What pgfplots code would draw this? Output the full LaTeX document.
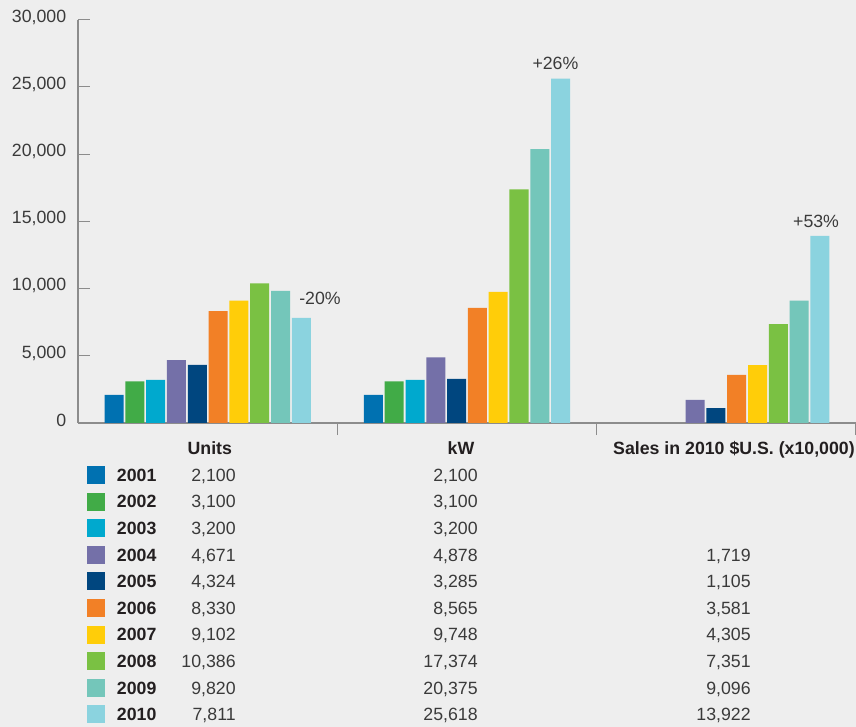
\documentclass[border=0pt]{standalone}
\usepackage{pgfplots}
\pgfplotsset{compat=1.18}
\usepackage{fontspec}
\setmainfont{Liberation Sans}
\definecolor{bg}{HTML}{EEEEEE}
\definecolor{axgray}{HTML}{8C8C8C}
\definecolor{txt}{HTML}{3A3A3A}
\definecolor{dark}{HTML}{231F20}
\definecolor{c01}{HTML}{0071B1}
\definecolor{c02}{HTML}{41AB47}
\definecolor{c03}{HTML}{00A9CE}
\definecolor{c04}{HTML}{7470A8}
\definecolor{c05}{HTML}{00467F}
\definecolor{c06}{HTML}{F28026}
\definecolor{c07}{HTML}{FFCD09}
\definecolor{c08}{HTML}{7AC143}
\definecolor{c09}{HTML}{74C6BA}
\definecolor{c10}{HTML}{8BD3DF}
\newcommand{\fnt}{\fontsize{13.3}{16}\selectfont}
\newcommand{\rowtxt}[4]{\makebox[89pt][l]{\textcolor{dark}{\bfseries #1}\hfill #2}\makebox[181.5pt][r]{#3}\makebox[204.75pt][r]{#4}}
\begin{document}
\begin{tikzpicture}[font=\fnt]
\fill[bg] (-58.5pt,-228pt) rectangle (583.5pt,317.25pt);
\begin{axis}[
  at={(0pt,0pt)}, anchor=south west,
  scale only axis, width=583.5pt, height=302.5pt,
  xmin=-0.5, xmax=2.5, ymin=0, ymax=30000,
  axis lines*=left,
  axis line style={draw=axgray, line width=0.9pt},
  xtick={0.5,1.5,2.5}, xticklabels={},
  xticklabel style={inner sep=0pt, outer sep=0pt},
  ytick={0,5000,10000,15000,20000,25000,30000},
  tick align=inside,
  major tick length=9pt,
  tick style={draw=axgray, line width=0.9pt},
  yticklabel style={font=\fnt, text=txt, xshift=-5.3pt, yshift=2pt},
  /pgf/number format/1000 sep={,},
  /pgf/number format/assume math mode=true,
  scaled y ticks=false,
  ybar, bar width=0.0733,
  clip=false,
  legend image code/.code={\fill[#1,draw=none] (0pt,-6.75pt) rectangle (13.5pt,6.75pt);},
  legend cell align=left,
  legend style={at={(0.01157,-0.1064)}, anchor=north west, draw=none, fill=none,
    inner sep=0pt, outer sep=0pt, row sep=6.45pt, column sep=9pt,
    nodes={inner sep=0pt, text height=11.5pt, text depth=2pt, font=\fnt, text=txt}},
]
\addplot[fill=c01, draw=none, bar shift=-0.361] coordinates {(0,2100) (1,2100)};
\addlegendentry{\rowtxt{2001}{2,100}{2,100}{}}
\addplot[fill=c02, draw=none, bar shift=-0.281] coordinates {(0,3100) (1,3100)};
\addlegendentry{\rowtxt{2002}{3,100}{3,100}{}}
\addplot[fill=c03, draw=none, bar shift=-0.2005] coordinates {(0,3200) (1,3200)};
\addlegendentry{\rowtxt{2003}{3,200}{3,200}{}}
\addplot[fill=c04, draw=none, bar shift=-0.1203] coordinates {(0,4671) (1,4878) (2,1719)};
\addlegendentry{\rowtxt{2004}{4,671}{4,878}{1,719}}
\addplot[fill=c05, draw=none, bar shift=-0.0401] coordinates {(0,4324) (1,3285) (2,1105)};
\addlegendentry{\rowtxt{2005}{4,324}{3,285}{1,105}}
\addplot[fill=c06, draw=none, bar shift=0.0401] coordinates {(0,8330) (1,8565) (2,3581)};
\addlegendentry{\rowtxt{2006}{8,330}{8,565}{3,581}}
\addplot[fill=c07, draw=none, bar shift=0.1203] coordinates {(0,9102) (1,9748) (2,4305)};
\addlegendentry{\rowtxt{2007}{9,102}{9,748}{4,305}}
\addplot[fill=c08, draw=none, bar shift=0.2005] coordinates {(0,10386) (1,17374) (2,7351)};
\addlegendentry{\rowtxt{2008}{10,386}{17,374}{7,351}}
\addplot[fill=c09, draw=none, bar shift=0.281] coordinates {(0,9820) (1,20375) (2,9096)};
\addlegendentry{\rowtxt{2009}{9,820}{20,375}{9,096}}
\addplot[fill=c10, draw=none, bar shift=0.361] coordinates {(0,7811) (1,25618) (2,13922)};
\addlegendentry{\rowtxt{2010}{7,811}{25,618}{13,922}}
\node[text=txt] at (axis cs:0.433,9280) {-20\%};
\node[text=txt] at (axis cs:1.341,26730) {+26\%};
\node[text=txt] at (axis cs:2.346,15000) {+53\%};
\end{axis}
\node[anchor=base east, text=dark, font=\fnt\bfseries] at (119pt,-24pt) {Units};
\node[anchor=base east, text=dark, font=\fnt\bfseries] at (300.75pt,-24pt) {kW};
\node[anchor=base east, text=dark, font=\fnt\bfseries, inner sep=0pt] at (582.75pt,-24pt) {Sales in 2010 \$U.S. (x10,000)};
\pgfresetboundingbox
\path[use as bounding box] (-58.5pt,-228pt) rectangle (583.5pt,317.25pt);
\end{tikzpicture}
\end{document}
